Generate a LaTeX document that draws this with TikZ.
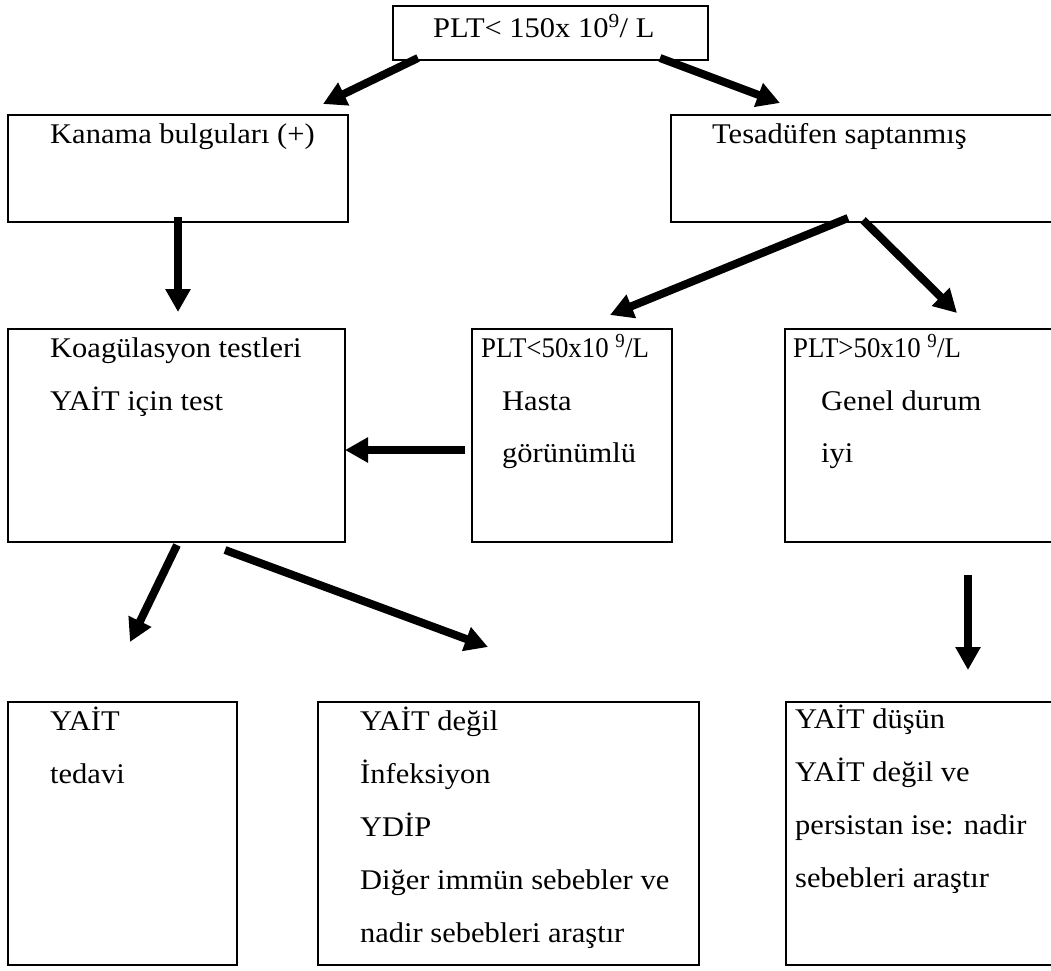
\documentclass[tikz,border=0pt]{standalone}
\usepackage{fontspec}
\setmainfont[FakeStretch=1.07]{Liberation Serif}
\usetikzlibrary{arrows.meta}
\begin{document}
\begin{tikzpicture}[x=1pt,y=-1pt,
  bx/.style={draw,line width=1.8pt,anchor=north west,inner sep=0pt,outer sep=0pt},
  txt/.style={anchor=base west,inner sep=0pt,font=\fontsize{28.5}{34}\selectfont},
  arr/.style={line width=8pt,-{Triangle[length=23pt,width=24pt]}}]
\useasboundingbox (0,0) rectangle (1051,970);
\clip (0,0) rectangle (1051,970);
% boxes
\node[bx,minimum width=315pt,minimum height=54pt] (top) at (393,6) {};
\node[bx,minimum width=340pt,minimum height=107pt] (kan) at (8,115) {};
\node[bx,minimum width=400pt,minimum height=107pt] (tes) at (671,115) {};
\node[bx,minimum width=337pt,minimum height=213pt] (koag) at (8,329) {};
\node[bx,minimum width=200pt,minimum height=213pt] (pa) at (472,329) {};
\node[bx,minimum width=300pt,minimum height=213pt] (pb) at (785,329) {};
\node[bx,minimum width=229pt,minimum height=263pt] (ba) at (8,702) {};
\node[bx,minimum width=381pt,minimum height=263pt] (bb) at (318,702) {};
\node[bx,minimum width=300pt,minimum height=263pt] (bc) at (786,702) {};
% texts
\node[txt] (t0) at (433,37) {PLT< 150x 10\textsuperscript{9}/ L};
\node[txt] (t1) at (50,143) {Kanama bulguları (+)};
\node[txt] (t2) at (712,143) {Tesadüfen saptanmış};
\node[txt] (t3) at (50,357) {Koagülasyon testleri};
\node[txt] (t4) at (50,410) {YAİT için test};
\node[txt] (t5) at (481,357) {\scalebox{0.88}[1]{PLT<50x10 \textsuperscript{9}/L}};
\node[txt] (t6) at (502,410) {Hasta};
\node[txt] (t7) at (502,462) {görünümlü};
\node[txt] (t8) at (793,357) {\scalebox{0.88}[1]{PLT>50x10 \textsuperscript{9}/L}};
\node[txt] (t9) at (821,410) {Genel durum};
\node[txt] (t10) at (821,462) {iyi};
\node[txt] (t11) at (50,730) {YAİT};
\node[txt] (t12) at (50,783) {tedavi};
\node[txt] (t13) at (360,730) {YAİT değil};
\node[txt] (t14) at (360,783) {İnfeksiyon};
\node[txt] (t15) at (360,836) {YDİP};
\node[txt] (t16) at (360,889) {Diğer immün sebebler ve};
\node[txt] (t17) at (360,942) {nadir sebebleri araştır};
\node[txt] (t18) at (795,728) {YAİT düşün};
\node[txt] (t19) at (795,781) {YAİT değil ve};
\node[txt] (t20) at (795,834) {persistan ise: nadir};
\node[txt] (t21) at (795,887) {sebebleri araştır};
% arrow ends
\coordinate (a1s) at (418,58);  \coordinate (a1e) at (323,104);
\coordinate (a2s) at (660,58);  \coordinate (a2e) at (780,103);
\coordinate (a3s) at (178,217); \coordinate (a3e) at (178,312);
\coordinate (a4s) at (848,218); \coordinate (a4e) at (610,315);
\coordinate (a5s) at (863,220); \coordinate (a5e) at (957,313);
\coordinate (a6s) at (465,450); \coordinate (a6e) at (345,450);
\coordinate (a7s) at (177,545); \coordinate (a7e) at (130,642);
\coordinate (a8s) at (225,550); \coordinate (a8e) at (488,647);
\coordinate (a9s) at (968,575); \coordinate (a9e) at (968,670);
\draw[arr] (a1s) -- (a1e);
\draw[arr] (a2s) -- (a2e);
\draw[arr] (a3s) -- (a3e);
\draw[arr] (a4s) -- (a4e);
\draw[arr] (a5s) -- (a5e);
\draw[arr] (a6s) -- (a6e);
\draw[arr] (a7s) -- (a7e);
\draw[arr] (a8s) -- (a8e);
\draw[arr] (a9s) -- (a9e);
\end{tikzpicture}
\end{document}
